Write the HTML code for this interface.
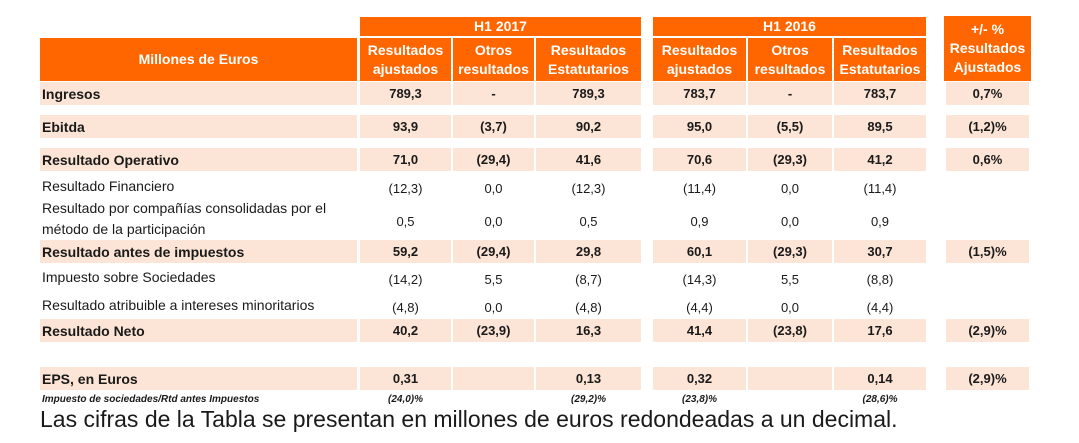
<!DOCTYPE html>
<html><head><meta charset="utf-8">
<style>
body{margin:0;width:1079px;height:443px;background:#fff;position:relative;overflow:hidden;font-family:"Liberation Sans",sans-serif;color:#1a1a1a}
.a{position:absolute;box-sizing:border-box}
.h{background:#ff6600;color:#fff;font-weight:bold;font-size:14px;text-align:center;display:flex;align-items:center;justify-content:center;line-height:19px}
.b{background:#fce4d6}
.c{display:flex;align-items:center;justify-content:center;font-size:13px}
.l{font-size:14px;display:flex;align-items:center;padding-left:2px}
</style></head><body>
<div class="a h" style="left:40px;top:38px;width:317px;height:43px">Millones de Euros</div>
<div class="a h" style="left:360px;top:17px;width:281px;height:19px">H1 2017</div>
<div class="a h" style="left:653px;top:17px;width:273px;height:19px">H1 2016</div>
<div class="a h" style="left:944px;top:16px;width:87px;height:65px">+/- %<br>Resultados<br>Ajustados</div>
<div id="root"></div>
<div class="a" style="left:40px;top:406px;font-size:23px;white-space:nowrap">Las cifras de la Tabla se presentan en millones de euros redondeadas a un decimal.</div>
<script>
const cols=[[360,451],[453,534],[536,641],[653,746],[748,832],[834,926],[946,1029]];
const subHeads=["Resultados<br>ajustados","Otros<br>resultados","Resultados<br>Estatutarios","Resultados<br>ajustados","Otros<br>resultados","Resultados<br>Estatutarios"];
const rowLabels=["Ingresos","Ebitda","Resultado Operativo","Resultado Financiero","Resultado por compañías consolidadas por el<br>método de la participación","Resultado antes de impuestos","Impuesto sobre Sociedades","Resultado atribuible a intereses minoritarios","Resultado Neto","EPS, en Euros","Impuesto de sociedades/Rtd antes Impuestos"];
const rowValues=[
["789,3","-","789,3","783,7","-","783,7","0,7%"],
["93,9","(3,7)","90,2","95,0","(5,5)","89,5","(1,2)%"],
["71,0","(29,4)","41,6","70,6","(29,3)","41,2","0,6%"],
["(12,3)","0,0","(12,3)","(11,4)","0,0","(11,4)",""],
["0,5","0,0","0,5","0,9","0,0","0,9",""],
["59,2","(29,4)","29,8","60,1","(29,3)","30,7","(1,5)%"],
["(14,2)","5,5","(8,7)","(14,3)","5,5","(8,8)",""],
["(4,8)","0,0","(4,8)","(4,4)","0,0","(4,4)",""],
["40,2","(23,9)","16,3","41,4","(23,8)","17,6","(2,9)%"],
["0,31","","0,13","0,32","","0,14","(2,9)%"],
["(24,0)%","","(29,2)%","(23,8)%","","(28,6)%",""]];
const rowBold=[1,1,1,0,0,1,0,0,1,1,2];
const rowTop=[81,114,147,176,198,239,266,294,318,366,392];
const rowH=[24,24,24,20,42,24,22,22,24,24,14];
const root=document.getElementById('root');
subHeads.forEach((t,i)=>{const d=document.createElement('div');d.className='a h';
d.style.cssText=`left:${cols[i][0]}px;top:38px;width:${cols[i][1]-cols[i][0]}px;height:43px`;d.innerHTML=t;


root.appendChild(d);});
rowLabels.forEach((lab,r)=>{
const band=rowBold[r]===1;const top=rowTop[r]+(band?1:0);const h=rowH[r]-(band?1:0);
const L=document.createElement('div');L.className='a l'+(band?' b':'');
L.style.cssText=`left:40px;top:${top}px;width:317px;height:${h}px;font-weight:${band?'bold':'normal'};`+(rowBold[r]===2?'font-style:italic;font-weight:bold;font-size:10px;':'')+(r===4?'line-height:21px;':'');
L.innerHTML=lab;


root.appendChild(L);
rowValues[r].forEach((v,i)=>{
const c=document.createElement('div');c.className='a c'+(band?' b':'');
c.style.cssText=`left:${cols[i][0]}px;top:${top}px;width:${cols[i][1]-cols[i][0]}px;height:${h}px;font-weight:${rowBold[r]?'bold':'normal'};`+(rowBold[r]===2?'font-style:italic;font-size:10px;':'')+(!band&&rowBold[r]===0?'padding-top:4px;':'');
c.textContent=v;


if(!(band===false&&v===''&&i===6))root.appendChild(c);});
});
</script>
</body></html>
